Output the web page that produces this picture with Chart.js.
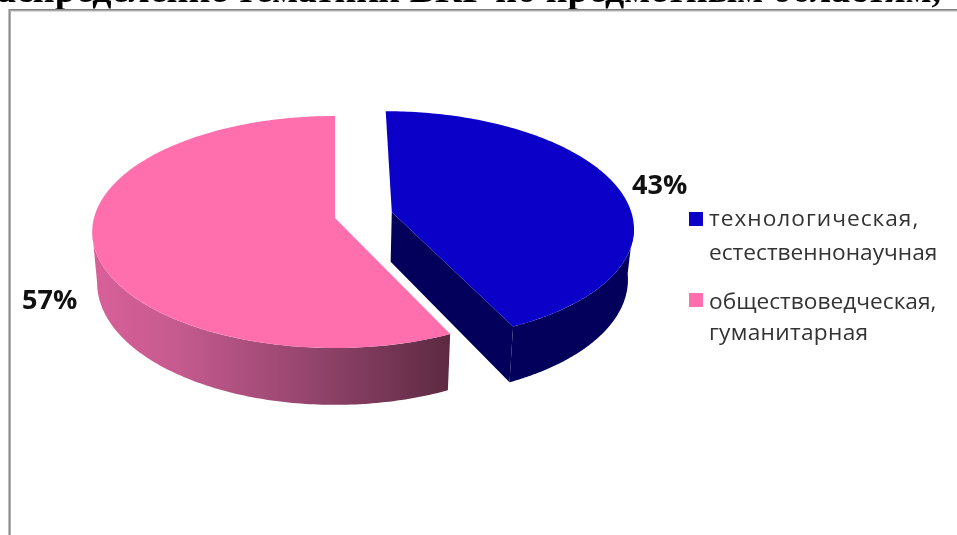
<!DOCTYPE html>
<html><head><meta charset="utf-8">
<style>html,body{margin:0;padding:0;background:#fff;width:957px;height:535px;overflow:hidden}
#wrap{position:absolute;left:0;top:0;width:957px;height:535px}
</style>
<script src="https://cdn.jsdelivr.net/npm/chart.js@4"></script>
</head><body><div id="wrap"><canvas id="c" width="957" height="535"></canvas></div>
<script>
const categories = [["технологическая,","естественнонаучная"],["обществоведческая,","гуманитарная"]];
const shares = [43,57];
const sliceColors = ["#0A00C8","#FF6FAE"];
const wallColors = ["#02005A",null];
const pctLabels = ["43%","57%"];
const heading = "аспределение тематики ВКР по предметным областям,";

const G = {cx:335,cy:218,R:241,Ry:114.3,p:0.1207,D:50,bot:0.98};
const EXPLODE = [0.243,0];
function proj(u,v,drop){
  const w = 1-G.p*v;
  let X = G.R*u/w, Y = G.Ry*v/w;
  if(drop){X*=G.bot;Y+=G.D/w;}
  return [G.cx+X,G.cy+Y];
}
function sliceGeom(arc,i){
  const s=arc.startAngle,e=arc.endAngle,m=(s+e)/2;
  const o=EXPLODE[i];
  return {s,e,ou:o*Math.cos(m),ov:o*Math.sin(m)};
}
function rim(g,a0,a1,drop,n){
  const pts=[];
  for(let k=0;k<=n;k++){const a=a0+(a1-a0)*k/n;pts.push(proj(g.ou+Math.cos(a),g.ov+Math.sin(a),drop));}
  return pts;
}
const pie3d = {
  id:'pie3d',
  beforeDatasetDraw(chart){
    const ctx=chart.ctx, arcs=chart.getDatasetMeta(0).data;
    arcs.forEach((arc,i)=>{
      const g=sliceGeom(arc,i), col=chart.data.datasets[0].backgroundColor[i];
      ctx.save();
      const a0=proj(g.ou,g.ov,false),a1=proj(g.ou,g.ov,true);
      const e0=proj(g.ou+Math.cos(g.e),g.ov+Math.sin(g.e),false),e1=proj(g.ou+Math.cos(g.e),g.ov+Math.sin(g.e),true);
      if(i===0){
        ctx.fillStyle=wallColors[0];
        ctx.beginPath();ctx.moveTo(...a0);ctx.lineTo(...a1);ctx.lineTo(...e1);ctx.lineTo(...e0);ctx.closePath();ctx.fill();
      }
      // outer wall, from the silhouette point to the slice edge
      const A=i===0?[0.1,g.e]:[g.s,Math.PI-0.12];
      const top=rim(g,A[0],A[1],false,120),bot=rim(g,A[0],A[1],true,120);
      if(i===0)ctx.fillStyle=wallColors[0];
      else{
        const gr=ctx.createLinearGradient(91,0,448,0);
        gr.addColorStop(0,'#D9609A');gr.addColorStop(0.25,'#C45A8E');gr.addColorStop(0.6,'#96466F');gr.addColorStop(1,'#5E2A42');
        ctx.fillStyle=gr;
      }
      ctx.beginPath();top.forEach((p,k)=>k?ctx.lineTo(...p):ctx.moveTo(...p));bot.slice().reverse().forEach(p=>ctx.lineTo(...p));ctx.closePath();ctx.fill();
      // top face
      ctx.fillStyle=col;
      ctx.beginPath();ctx.moveTo(...a0);rim(g,g.s,g.e,false,160).forEach(p=>ctx.lineTo(...p));ctx.closePath();ctx.fill();
      ctx.restore();
    });
    return false;
  },
  afterDraw(chart){
    const ctx=chart.ctx, c=chart.data.datasets[0].backgroundColor, L=chart.data.labels;
    ctx.save();
    // heading, cropped at the top and at the frame
    ctx.save();
    ctx.beginPath();ctx.rect(0,0,957,9);ctx.clip();
    ctx.fillStyle='#000';ctx.textAlign='left';ctx.textBaseline='alphabetic';
    ctx.font='bold 38px "Liberation Serif"';
    ctx.fillText(heading,-3,2);
    ctx.restore();
    // frame
    ctx.fillStyle='#808080';ctx.fillRect(8,9,949,1);
    ctx.fillStyle='#A8A8A8';ctx.fillRect(8,10,949,1);
    ctx.fillStyle='#DADADA';ctx.fillRect(11,11,946,1);
    ctx.fillStyle='#C0C0C0';ctx.fillRect(8,9,1,526);
    ctx.fillStyle='#8C8C8C';ctx.fillRect(9,9,1,526);
    ctx.fillStyle='#B0B0B0';ctx.fillRect(10,10,1,525);
    // value labels
    ctx.font='bold 27px "Open Sans"';ctx.fillStyle='#111';ctx.textAlign='left';ctx.textBaseline='middle';
    ctx.fillText(pctLabels[0],632,186);
    ctx.fillText(pctLabels[1],22,301);
    // legend
    const rows=[[220,254],[303,334]];
    const spacing=[['1px','0px'],['0px','0.3px']];
    ctx.font='22.7px "Open Sans"';
    L.forEach((lines,i)=>{
      ctx.fillStyle=c[i];ctx.fillRect(689,212+i*81,14,14);
      ctx.fillStyle='#333';
      lines.forEach((t,k)=>{ctx.letterSpacing=spacing[i][k];ctx.fillText(t,709,rows[i][k]);});
    });
    ctx.restore();
  }
};
new Chart(document.getElementById('c'),{
  type:'pie',
  data:{labels:categories,datasets:[{data:shares,backgroundColor:sliceColors,borderWidth:0}]},
  options:{responsive:false,animation:false,rotation:0,
    plugins:{legend:{display:false},tooltip:{enabled:false},title:{display:false}}},
  plugins:[pie3d]
});
</script></body></html>
